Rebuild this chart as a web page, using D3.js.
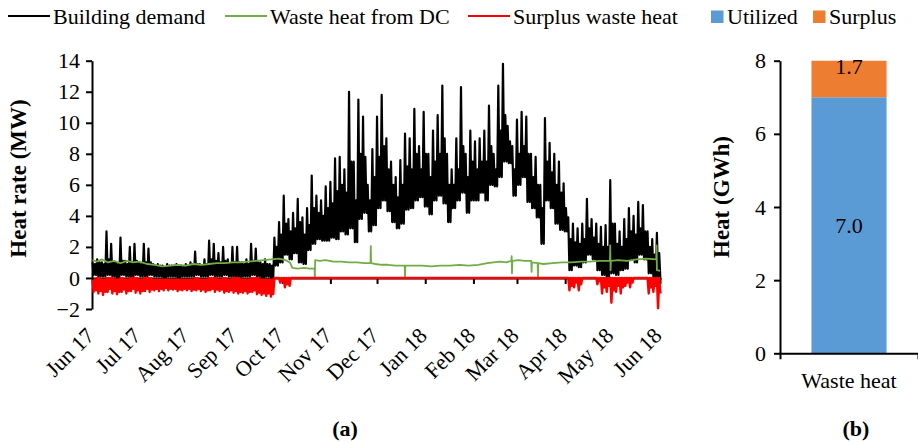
<!DOCTYPE html>
<html><head><meta charset="utf-8">
<script src="https://cdn.jsdelivr.net/npm/d3@7"></script>
<style>
body{margin:0;background:#fff}
svg{display:block}
</style>
</head><body><svg id="c" width="918" height="443" style="font-family: Liberation Serif"></svg>
<script>
// ---------- DATA ----------
const startDate = new Date(2017, 5, 1);
const endDate = new Date(2018, 5, 1);
const stepDays = 3; // each entry covers 3 days
const monthLabels = ["Jun 17","Jul 17","Aug 17","Sep 17","Oct 17","Nov 17","Dec 17","Jan 18","Feb 18","Mar 18","Apr 18","May 18","Jun 18"];
const yTicksA = [-2,0,2,4,6,8,10,12,14];

// building demand (MW): peak, trough and typical daily top per 3-day span
const demandHigh = [1.0,1.2,1.0,3.0,2.2,1.0,2.6,1.1,2.0,2.2,
 1.0,2.2,1.9,0.9,0.9,0.8,0.9,0.8,0.9,0.8,
 0.9,1.0,1.7,0.9,1.2,2.4,2.2,1.6,2.0,1.2,
 2.0,2.0,1.0,1.2,2.2,1.9,1.0,1.2,0.9,2.6,
 3.6,5.3,3.8,4.2,5.1,3.9,4.5,6.6,5.3,5.0,
 5.9,6.2,7.7,7.8,7.0,12.0,7.5,11.5,10.4,6.0,
 8.3,10.4,11.8,9.0,7.5,6.5,7.6,9.3,9.0,10.9,
 8.5,10.7,8.0,9.5,10.5,12.4,8.0,7.0,9.0,12.3,
 8.0,9.5,8.8,9.0,9.5,11.1,8.0,12.4,13.8,9.8,
 8.5,10.2,10.7,10.4,8.0,7.8,6.0,10.3,8.7,8.0,
 7.5,6.1,3.9,3.5,3.2,3.5,5.1,3.8,3.5,3.3,
 3.4,6.3,3.5,3.0,3.8,4.5,4.0,4.9,4.7,3.0,
 2.5,2.9];
const demandLow = [0.2,0.1,0.1,0.2,0.1,0.0,0.2,0.1,0.0,0.2,
 0.1,0.1,0.2,0.1,0.1,0.0,0.1,0.1,0.0,0.1,
 0.1,0.1,0.2,0.1,0.1,0.2,0.1,0.1,0.2,0.1,
 0.1,0.0,0.1,0.1,0.2,0.1,0.0,0.1,0.0,0.8,
 1.0,1.5,1.2,1.6,1.0,0.9,1.8,2.2,2.5,2.4,
 2.4,2.6,2.5,3.0,2.8,3.2,2.3,3.8,4.2,3.0,
 3.4,4.5,5.0,4.3,3.6,3.2,3.5,4.4,4.5,5.0,
 5.2,4.6,4.1,5.0,5.3,4.8,3.6,4.5,5.0,5.5,
 4.2,5.0,5.0,5.5,5.0,6.0,5.9,6.5,7.5,7.4,
 5.3,6.0,6.5,4.9,4.5,3.9,2.2,5.0,4.5,3.5,
 3.1,3.0,0.5,0.8,0.7,1.0,1.5,1.2,0.5,0.2,
 0.0,0.3,0.2,0.5,0.6,1.2,1.0,1.5,1.2,0.3,
 0.0,-0.1];
const demandMid = [0.9,1.0,0.9,1.2,1.0,0.9,1.1,0.9,1.0,1.1,
 0.9,1.0,1.0,0.8,0.8,0.7,0.8,0.8,0.8,0.7,
 0.8,0.9,0.9,0.8,0.9,1.2,1.1,1.0,1.1,0.9,
 1.0,1.0,0.9,0.9,1.1,1.0,0.9,0.9,0.8,2.0,
 2.8,3.5,3.0,3.2,3.6,2.8,3.4,4.5,4.2,4.0,
 4.5,4.8,5.6,6.0,5.5,7.5,5.0,8.0,7.8,5.0,
 6.5,7.8,8.5,7.0,6.0,5.2,6.0,7.2,7.0,8.0,
 7.0,8.0,6.5,7.5,8.0,9.0,6.0,6.0,7.0,8.5,
 6.5,7.5,7.0,7.5,7.5,8.5,7.0,9.5,10.5,8.8,
 7.0,8.0,8.5,8.0,6.5,6.0,4.5,7.5,6.8,6.0,
 5.5,4.5,2.5,2.3,2.2,2.5,3.2,2.6,2.2,2.0,
 2.0,3.5,2.2,2.0,2.5,3.0,2.8,3.2,3.0,2.0,
 1.5,1.6];

// surplus waste heat (MW, negative): top, deepest and second trough per 3-day span
const surplusHigh = [-0.1,0,-0.1,0,0,-0.1,0,-0.1,0,0,
 -0.1,0,0,-0.1,-0.1,-0.1,-0.1,-0.1,-0.1,-0.1,
 -0.1,-0.1,0,-0.1,-0.1,0,0,-0.1,0,-0.1,
 0,0,-0.1,-0.1,0,0,-0.1,-0.1,-0.1,0,
 0,0,0,0,0,0,0,0,0,0,
 0,0,0,0,0,0,0,0,0,0,
 0,0,0,0,0,0,0,0,0,0,
 0,0,0,0,0,0,0,0,0,0,
 0,0,0,0,0,0,0,0,0,0,
 0,0,0,0,0,0,0,0,0,0,
 0,0,0,0,0,0,0,0,0,0,
 0,0,0,0,0,0,0,0,0,0,
 0,0];
const surplusLow = [-0.9,-1.0,-1.1,-0.9,-1.0,-1.05,-0.9,-1.0,-0.85,-0.95,
 -1.0,-0.85,-0.9,-0.8,-0.85,-0.8,-0.8,-0.75,-0.85,-0.8,
 -0.8,-0.85,-0.8,-0.85,-0.9,-0.8,-0.9,-0.85,-0.95,-0.9,
 -0.95,-1.0,-0.95,-1.0,-0.9,-1.05,-1.1,-1.15,-1.2,0,
 -0.3,-0.6,-0.5,0,0,0,0,0,0,0,
 0,0,0,0,0,0,0,0,0,0,
 0,0,0,0,0,0,0,0,0,0,
 0,0,0,0,0,0,0,0,0,0,
 0,0,0,0,0,0,0,0,0,0,
 0,0,0,0,0,0,0,0,0,0,
 0,0,-0.8,-0.6,-0.8,0,0,0,-0.4,-1.0,
 -0.9,-1.6,-0.9,-1.0,-0.5,-0.6,0,0,0,-1.0,
 -0.9,-1.95];
const surplusLow2 = [-0.8,-0.85,-0.9,-0.7,-0.85,-0.9,-0.75,-0.85,-0.7,-0.8,
 -0.85,-0.7,-0.75,-0.7,-0.7,-0.65,-0.7,-0.7,-0.75,-0.7,
 -0.7,-0.75,-0.7,-0.75,-0.8,-0.7,-0.75,-0.75,-0.85,-0.8,
 -0.85,-0.9,-0.85,-0.9,-0.8,-0.95,-1.0,-1.0,-1.05,0,
 -0.2,-0.4,0,0,0,0,0,0,0,0,
 0,0,0,0,0,0,0,0,0,0,
 0,0,0,0,0,0,0,0,0,0,
 0,0,0,0,0,0,0,0,0,0,
 0,0,0,0,0,0,0,0,0,0,
 0,0,0,0,0,0,0,0,0,0,
 0,0,-0.5,-0.3,-0.4,0,0,0,-0.2,-0.6,
 -0.5,-0.8,-0.5,-0.6,-0.3,-0.3,0,0,0,-0.6,
 -0.5,-1.0];

// waste heat from DC (MW) at given day offsets from 1 Jun 2017
const wasteDay = [0,3,6,10,14,18,22,26,30,35,40,45,50,55,60,65,70,75,80,85,90,95,100,105,110,115,120,124,127,
 128.5,132,136,140,142.8,143,143.2,146,150,155,160,165,170,175,178.8,179,179.2,182,186,190,195,200,
 200.8,201,201.2,206,212,218,224,230,236,242,248,254,258,262,266,269.4,269.6,269.8,270,274,278,
 282.2,282.4,282.6,286.3,286.5,286.7,290,296,302,308,314,320,326,332.8,333,333.2,333.4,338,344,350,356,
 362.6,362.8,363,365];
const wasteMW = [1.15,1.05,1.2,1.0,1.1,0.95,1.1,1.0,1.05,0.9,0.85,0.75,0.8,0.85,0.8,0.9,0.85,0.9,0.95,0.95,1.0,1.0,1.05,1.1,1.15,1.2,1.25,1.15,1.0,
 0.65,0.6,0.65,0.6,0.6,0.0,1.15,1.1,1.15,1.05,1.05,1.0,1.0,0.95,0.95,2.05,0.95,0.9,0.85,0.85,0.8,0.8,
 0.8,0.0,0.8,0.8,0.8,0.75,0.8,0.8,0.85,0.8,0.85,0.95,1.0,1.05,1.0,1.1,1.4,0.3,1.1,1.15,1.1,
 1.1,0.4,1.0,0.95,0.0,0.95,0.9,0.95,1.0,1.0,1.05,1.05,1.1,1.1,2.1,0.5,1.1,1.15,1.1,1.2,1.25,
 1.2,2.1,0.5,0.45];

const barCategory = ["Waste heat"];
const utilizedGWh = [7.0];
const surplusGWh = [1.7];
const yTicksB = [0,2,4,6,8];

const legendA = ["Building demand","Waste heat from DC","Surplus waste heat"];
const legendB = ["Utilized","Surplus"];

// ---------- STYLE ----------
const FONT = "Liberation Serif";
const cBlack = "#000000", cGreen = "#70AD47", cRed = "#FF0000", cBlue = "#5B9BD5", cOrange = "#ED7D31";
const svg = d3.select("#c");
svg.append("rect").attr("width",918).attr("height",443).attr("fill","#fff");

function txt(sel, size, bold){
  return sel.style("font-family", FONT, "important").style("font-size", size + "px", "important")
            .style("font-weight", bold ? "bold" : "normal", "important").attr("fill","#000");
}

const dayMs = 864e5;
const toDate = d => new Date(startDate.getTime() + d * dayMs);

function styleAxis(g){
  g.attr("font-family", null).attr("font-size", null);
  g.select(".domain").attr("stroke","#000").attr("stroke-width",2);
  g.selectAll(".tick line").attr("stroke","#000").attr("stroke-width",2);
  txt(g.selectAll(".tick text"), 22, false);
}

// ---------- PANEL A ----------
const x = d3.scaleTime().domain([startDate, endDate]).range([92.5, 660]);
const y = d3.scaleLinear().domain([-2, 14]).range([309, 60.7]);

const yAx = svg.append("g").attr("transform","translate(92,0)")
  .call(d3.axisLeft(y).tickValues(yTicksA).tickSize(6).tickSizeOuter(0).tickPadding(6));
styleAxis(yAx);

const months = d3.timeMonth.range(startDate, d3.timeMonth.offset(endDate, 1));
const xAx = svg.append("g").attr("transform",`translate(0,${y(0)})`)
  .call(d3.axisBottom(x).tickValues(months).tickSize(6).tickSizeOuter(0).tickFormat(""));
styleAxis(xAx);

txt(svg.append("g").selectAll("text").data(months).join("text")
  .attr("transform", (d) => `translate(${x(d)+3},${y(-2)+28}) rotate(-45)`)
  .attr("text-anchor","end")
  .text((d,i) => monthLabels[i]), 22, false);

function zigzag(a, b, c, d){
  const pts = [];
  const q = stepDays / 4;
  a.forEach((v,k) => {
    const t = k * stepDays;
    pts.push([t, v]); pts.push([t + q, b[k]]); pts.push([t + 2*q, c[k]]); pts.push([t + 3*q, d[k]]);
  });
  return pts;
}
const line = d3.line().x(p => x(toDate(p[0]))).y(p => y(p[1]));

svg.append("path").datum(zigzag(demandHigh, demandLow, demandMid, demandLow)).attr("d", line)
  .attr("fill","none").attr("stroke",cBlack).attr("stroke-width",2.2).attr("stroke-linejoin","round");
svg.append("path").datum(wasteDay.map((d,i)=>[d, wasteMW[i]])).attr("d", line)
  .attr("fill","none").attr("stroke",cGreen).attr("stroke-width",1.8).attr("stroke-linejoin","round");
svg.append("path").datum(zigzag(surplusHigh, surplusLow, surplusHigh, surplusLow2)).attr("d", line)
  .attr("fill","none").attr("stroke",cRed).attr("stroke-width",2.4).attr("stroke-linejoin","round");

txt(svg.append("text").attr("transform","translate(18,178.5) rotate(-90)")
  .attr("text-anchor","middle").attr("dominant-baseline","central")
  .text("Heat rate (MW)"), 23, true);
txt(svg.append("text").attr("x",345).attr("y",436).attr("text-anchor","middle").text("(a)"), 22, true);

// Legend
const legX = [8, 225, 468];
const legCol = [cBlack, cGreen, cRed];
legendA.forEach((t,i)=>{
  svg.append("line").attr("x1",legX[i]).attr("x2",legX[i]+42).attr("y1",16).attr("y2",16)
    .attr("stroke",legCol[i]).attr("stroke-width",2);
  txt(svg.append("text").attr("x",legX[i]+45).attr("y",24).text(t), 22, false);
});
const legBX = [711, 813];
const legBCol = [cBlue, cOrange];
legendB.forEach((t,i)=>{
  svg.append("rect").attr("x",legBX[i]).attr("y",10.5).attr("width",12.5).attr("height",12.5).attr("fill",legBCol[i]);
  txt(svg.append("text").attr("x",legBX[i]+16).attr("y",24).text(t), 22, false);
});

// ---------- PANEL B ----------
const yb = d3.scaleLinear().domain([0, 8]).range([353.3, 60.7]);
const xb = d3.scaleBand().domain(barCategory).range([780, 918]).paddingInner(0.456).paddingOuter(0.228);

const rows = barCategory.map((c,i)=>({cat:c, Utilized:utilizedGWh[i], Surplus:surplusGWh[i]}));
const stack = d3.stack().keys(legendB)(rows);

svg.append("clipPath").attr("id","clipB").append("rect")
  .attr("x",780).attr("y",yb(8)).attr("width",138).attr("height",yb(0)-yb(8));
const gBars = svg.append("g").attr("clip-path","url(#clipB)");
stack.forEach((s,si)=>{
  gBars.selectAll(null).data(s).join("rect")
    .attr("x", d=>xb(d.data.cat)).attr("width", xb.bandwidth())
    .attr("y", d=>yb(d[1])).attr("height", d=>yb(d[0])-yb(d[1]))
    .attr("fill", legBCol[si]);
});
stack.forEach((s)=>{
  txt(svg.selectAll(null).data(s).join("text")
    .attr("x", d=>xb(d.data.cat)+xb.bandwidth()/2)
    .attr("y", d=>(yb(d[0])+yb(d[1]))/2)
    .attr("dy","0.35em").attr("text-anchor","middle")
    .text(d=>d3.format(".1f")(d[1]-d[0])), 22, false);
});

const ybAx = svg.append("g").attr("transform","translate(780,0)")
  .call(d3.axisLeft(yb).tickValues(yTicksB).tickSize(6).tickSizeOuter(0).tickPadding(8));
styleAxis(ybAx);

const xbAx = svg.append("g").attr("transform",`translate(0,${yb(0)})`)
  .call(d3.axisBottom(xb).tickSize(0).tickSizeOuter(6).tickFormat(""));
styleAxis(xbAx);
txt(svg.append("text").attr("x", xb("Waste heat")+xb.bandwidth()/2).attr("y",388)
  .attr("text-anchor","middle").text(barCategory[0]), 22, false);

txt(svg.append("text").attr("transform","translate(721.5,197) rotate(-90)")
  .attr("text-anchor","middle").attr("dominant-baseline","central")
  .text("Heat (GWh)"), 23, true);
txt(svg.append("text").attr("x",856).attr("y",436).attr("text-anchor","middle").text("(b)"), 22, true);
</script>
</body></html>
